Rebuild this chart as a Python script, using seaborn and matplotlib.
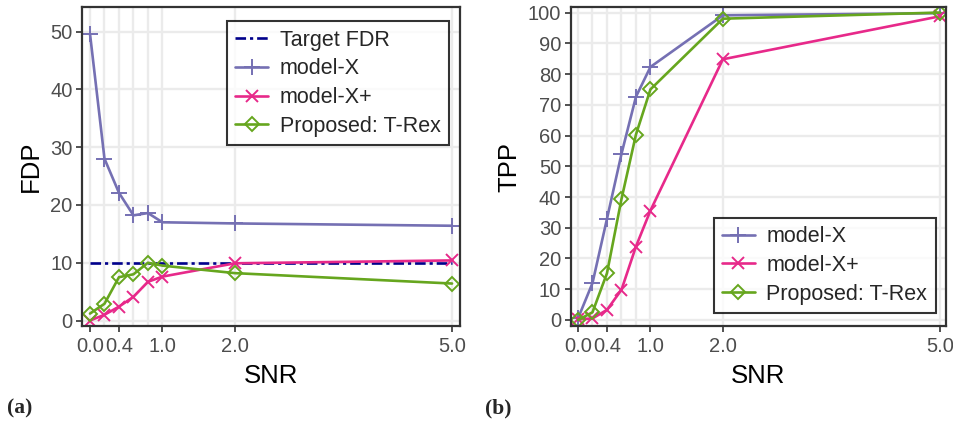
import numpy as np
import pandas as pd
import matplotlib
matplotlib.use("Agg")
import matplotlib.pyplot as plt
import seaborn as sns

# ---- data -------------------------------------------------------------
snr = [0.0, 0.2, 0.4, 0.6, 0.8, 1.0, 2.0, 5.0]
target_fdr = 10.0

fdp_model_x = [49.6, 28.0, 22.1, 18.2, 18.6, 17.0, 16.8, 16.4]
fdp_model_x_plus = [0.0, 1.0, 2.4, 4.1, 6.7, 7.6, 9.9, 10.4]
fdp_trex = [1.2, 2.9, 7.5, 8.0, 10.0, 9.5, 8.2, 6.4]

tpp_model_x = [0.5, 12.0, 32.9, 54.0, 72.6, 82.3, 99.1, 99.8]
tpp_model_x_plus = [0.2, 0.5, 3.3, 9.8, 23.9, 35.6, 84.8, 98.8]
tpp_trex = [0.0, 2.5, 15.2, 39.3, 60.3, 75.0, 98.0, 100.0]

x_tick_values = [0.0, 0.4, 1.0, 2.0, 5.0]
x_tick_labels = ["0.0", "0.4", "1.0", "2.0", "5.0"]
method_names = ["model-X", "model-X+", "Proposed: T-Rex"]

# ---- styling ------------------------------------------------------------
sns.set_theme(style="white")
plt.rcParams["font.family"] = ["Liberation Sans", "DejaVu Sans"]

colors = {"model-X": "#7570B3", "model-X+": "#E7298A", "Proposed: T-Rex": "#66A61E"}
marker_kw = {
    "model-X": dict(marker="+", markersize=11.5, markeredgewidth=1.4),
    "model-X+": dict(marker="x", markersize=8, markeredgewidth=1.4),
    "Proposed: T-Rex": dict(marker="D", markersize=7.5, markeredgewidth=1.4,
                            markerfacecolor="none"),
}
target_color = "#00008B"

fig = plt.figure(figsize=(9.54, 4.28), dpi=100)
ax_a = fig.add_axes([0.0863, 0.2383, 0.3959, 0.7446])
ax_b = fig.add_axes([0.5985, 0.2383, 0.3931, 0.7446])


def draw_series(ax, name, values):
    c = colors[name]
    kw = dict(marker_kw[name])
    kw.setdefault("markerfacecolor", c)
    sns.lineplot(x=snr, y=values, ax=ax, color=c, linewidth=1.9,
                 markeredgecolor=c, label=name, **kw)


def style_axes(ax, ylabel, yticks):
    ax.set_xticks(x_tick_values)
    ax.set_xticklabels(x_tick_labels)
    ax.set_xticks([v for v in snr if v not in x_tick_values], minor=True)
    ax.set_yticks(yticks)
    ax.set_yticklabels([str(v) for v in yticks])
    ax.grid(True, which="both", color="#EBEBEB", linewidth=1.7, zorder=0)
    ax.set_axisbelow(True)
    ax.tick_params(axis="both", which="major", direction="out", length=4,
                   width=1.2, color="#333333", labelcolor="#4D4D4D",
                   labelsize=14.5, bottom=True, left=True)
    ax.tick_params(axis="x", which="major", pad=4)
    ax.tick_params(axis="y", which="major", pad=3)
    ax.tick_params(axis="x", which="minor", length=0)
    for s in ax.spines.values():
        s.set_color("#333333")
        s.set_linewidth(1.6)
    ax.set_xlabel("SNR", fontsize=18.5, color="black", labelpad=6)
    ax.set_ylabel(ylabel, fontsize=18.5, color="black", labelpad=5)


legend_kw = dict(fontsize=15.5, frameon=True, fancybox=False, edgecolor="black",
                 handlelength=1.5, handletextpad=0.55, labelspacing=0.36,
                 borderpad=0.4, borderaxespad=0)

# ---- (a) FDP -------------------------------------------------------------
sns.lineplot(x=snr, y=[target_fdr] * len(snr), ax=ax_a, color=target_color,
             linewidth=1.9, dashes=(4, 1.5, 1.2, 1.5), label="Target FDR")
draw_series(ax_a, "model-X", fdp_model_x)
draw_series(ax_a, "model-X+", fdp_model_x_plus)
draw_series(ax_a, "Proposed: T-Rex", fdp_trex)
ax_a.set_xlim(-0.106, 5.11)
ax_a.set_ylim(-0.95, 54.2)
style_axes(ax_a, "FDP", [0, 10, 20, 30, 40, 50])
leg = ax_a.legend(loc="upper right", bbox_to_anchor=(0.971, 0.957), **legend_kw)
leg.get_frame().set_linewidth(1.5)

# ---- (b) TPP -------------------------------------------------------------
draw_series(ax_b, "model-X", tpp_model_x)
draw_series(ax_b, "model-X+", tpp_model_x_plus)
draw_series(ax_b, "Proposed: T-Rex", tpp_trex)
ax_b.set_xlim(-0.097, 5.08)
ax_b.set_ylim(-1.96, 101.7)
style_axes(ax_b, "TPP", list(range(0, 101, 10)))
leg = ax_b.legend(loc="lower right", bbox_to_anchor=(0.973, 0.04), **legend_kw)
leg.get_frame().set_linewidth(1.5)

# ---- panel tags ------------------------------------------------------------
fig.text(0.021, 0.045, "(a)", fontsize=15.5, fontweight="bold",
         family=["Liberation Serif", "DejaVu Serif"], ha="center", va="center")
fig.text(0.522, 0.045, "(b)", fontsize=15.5, fontweight="bold",
         family=["Liberation Serif", "DejaVu Serif"], ha="center", va="center")

fig.savefig("out.png", dpi=100)
